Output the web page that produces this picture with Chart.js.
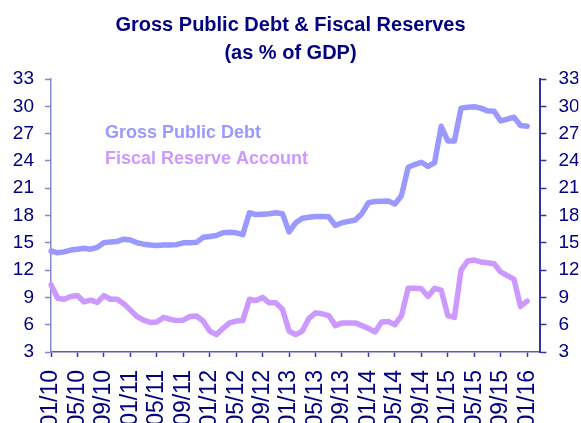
<!DOCTYPE html>
<html>
<head>
<meta charset="utf-8">
<script src="https://cdn.jsdelivr.net/npm/chart.js@4/dist/chart.umd.min.js"></script>
<style>
  html, body { margin: 0; padding: 0; background: #ffffff; }
  #wrap { width: 581px; height: 423px; }
</style>
</head>
<body>
<div id="wrap"><canvas id="c" width="581" height="423"></canvas></div>
<script>
// Month categories (MM/YY), axis runs to 03/16
const months = [
  '01/10','02/10','03/10','04/10','05/10','06/10','07/10','08/10','09/10','10/10','11/10','12/10',
  '01/11','02/11','03/11','04/11','05/11','06/11','07/11','08/11','09/11','10/11','11/11','12/11',
  '01/12','02/12','03/12','04/12','05/12','06/12','07/12','08/12','09/12','10/12','11/12','12/12',
  '01/13','02/13','03/13','04/13','05/13','06/13','07/13','08/13','09/13','10/13','11/13','12/13',
  '01/14','02/14','03/14','04/14','05/14','06/14','07/14','08/14','09/14','10/14','11/14','12/14',
  '01/15','02/15','03/15','04/15','05/15','06/15','07/15','08/15','09/15','10/15','11/15','12/15',
  '01/16','02/16','03/16'
];

// Tick labels shown on the x axis (every 4th month)
const xTickLabels = ['01/10','05/10','09/10','01/11','05/11','09/11','01/12','05/12','09/12',
  '01/13','05/13','09/13','01/14','05/14','09/14','01/15','05/15','09/15','01/16'];

// Y tick values
const yTicks = [3, 6, 9, 12, 15, 18, 21, 24, 27, 30, 33];

// Series: Gross Public Debt (% of GDP), 01/10 .. 01/16
const grossPublicDebt = [
  14.1, 13.9, 14.0, 14.2, 14.3, 14.4, 14.3, 14.5, 15.0, 15.1, 15.15, 15.4,
  15.3, 15.0, 14.85, 14.75, 14.7, 14.75, 14.75, 14.8, 15.0, 15.0, 15.05, 15.6,
  15.7, 15.8, 16.1, 16.15, 16.1, 15.9, 18.3, 18.1, 18.15, 18.2, 18.3, 18.2,
  16.2, 17.2, 17.7, 17.8, 17.9, 17.9, 17.85, 16.9, 17.2, 17.35, 17.5, 18.2,
  19.4, 19.55, 19.57, 19.6, 19.25, 20.2, 23.3, 23.6, 23.85, 23.4, 23.8, 27.8,
  26.2, 26.2, 29.8, 29.9, 29.95, 29.8, 29.5, 29.45, 28.4, 28.6, 28.8, 27.9,
  27.8
];

// Series: Fiscal Reserve Account (% of GDP), 01/10 .. 01/16
const fiscalReserveAccount = [
  10.4, 8.9, 8.8, 9.1, 9.2, 8.5, 8.7, 8.45, 9.2, 8.8, 8.8, 8.3,
  7.6, 6.9, 6.5, 6.25, 6.3, 6.8, 6.6, 6.45, 6.5, 6.9, 6.95, 6.4,
  5.3, 4.9, 5.6, 6.2, 6.4, 6.45, 8.8, 8.65, 9.0, 8.4, 8.4, 7.7,
  5.3, 4.9, 5.3, 6.7, 7.3, 7.2, 7.0, 5.9, 6.2, 6.2, 6.2, 5.9,
  5.6, 5.2, 6.3, 6.35, 6.0, 7.0, 10.0, 10.0, 9.95, 9.1, 10.0, 9.8,
  7.0, 6.8, 12.0, 13.0, 13.1, 12.9, 12.8, 12.7, 11.8, 11.4, 11.0, 8.0,
  8.6
];

const seriesNames = ['Gross Public Debt', 'Fiscal Reserve Account'];
const titleLines = ['Gross Public Debt & Fiscal Reserves', '(as % of GDP)'];

const FONT = '"Liberation Sans", Arial, Helvetica, sans-serif';
Chart.defaults.font.family = FONT;

const navy = '#000080';
const debtColor = '#9999ff';
const reserveColor = '#cc99ff';

const inlineLegend = {
  id: 'inlineLegend',
  afterDatasetsDraw(chart) {
    const ctx = chart.ctx;
    const a = chart.chartArea;
    ctx.save();
    ctx.font = 'bold 18px ' + FONT;
    ctx.textAlign = 'left';
    ctx.textBaseline = 'middle';
    chart.data.datasets.forEach((ds, i) => {
      ctx.fillStyle = ds.borderColor;
      ctx.fillText(ds.label, a.left + 54, a.top + 54 + i * 26);
    });
    ctx.restore();
  }
};

new Chart(document.getElementById('c'), {
  type: 'line',
  data: {
    labels: months,
    datasets: [
      {
        label: seriesNames[0],
        data: grossPublicDebt,
        borderColor: debtColor,
        backgroundColor: debtColor,
        borderWidth: 5.5,
        pointRadius: 0,
        tension: 0,
        borderCapStyle: 'round',
        borderJoinStyle: 'round',
        yAxisID: 'y'
      },
      {
        label: seriesNames[1],
        data: fiscalReserveAccount,
        borderColor: reserveColor,
        backgroundColor: reserveColor,
        borderWidth: 5.5,
        pointRadius: 0,
        tension: 0,
        borderCapStyle: 'round',
        borderJoinStyle: 'round',
        yAxisID: 'y'
      }
    ]
  },
  options: {
    responsive: false,
    animation: false,
    events: [],
    layout: { padding: 0 },
    plugins: {
      legend: { display: false },
      tooltip: { enabled: false },
      title: {
        display: true,
        text: titleLines,
        color: navy,
        font: { size: 20, weight: 'bold', lineHeight: 1.4 },
        padding: { top: 11, bottom: 12 }
      }
    },
    scales: {
      x: {
        type: 'category',
        offset: false,
        border: { display: true, color: '#5c5cb0', width: 1.5 },
        grid: {
          display: true,
          drawOnChartArea: false,
          drawTicks: true,
          tickLength: 5,
          tickWidth: 1.5,
          tickColor: (c) => (xTickLabels.includes(months[c.index]) ? '#3a3a99' : 'rgba(0,0,0,0)')
        },
        ticks: {
          autoSkip: false,
          minRotation: 90,
          maxRotation: 90,
          padding: 13,
          color: navy,
          font: { size: 23 },
          callback: function (value, index) {
            const lab = months[index];
            return xTickLabels.includes(lab) ? lab : '';
          }
        },
        afterFit: (s) => { s.height = 71; }
      },
      y: {
        position: 'left',
        min: 3,
        max: 33,
        border: { display: true, color: '#8888cc', width: 1.5 },
        grid: { display: true, drawOnChartArea: false, tickLength: 6, tickWidth: 1.5, tickColor: '#8888cc' },
        ticks: {
          stepSize: 3,
          padding: 11,
          color: navy,
          font: { size: 19 },
          callback: (v) => (yTicks.includes(v) ? String(v) : null)
        },
        afterFit: (s) => { s.width = 51; }
      },
      y2: {
        position: 'right',
        min: 3,
        max: 33,
        border: { display: true, color: '#333399', width: 2 },
        grid: { display: true, drawOnChartArea: false, tickLength: 6, tickWidth: 1.5, tickColor: '#333399' },
        ticks: {
          stepSize: 3,
          padding: 12,
          color: navy,
          font: { size: 19 },
          callback: (v) => (yTicks.includes(v) ? String(v) : null)
        },
        afterFit: (s) => { s.width = 38; }
      }
    }
  },
  plugins: [inlineLegend]
});
</script>
</body>
</html>
